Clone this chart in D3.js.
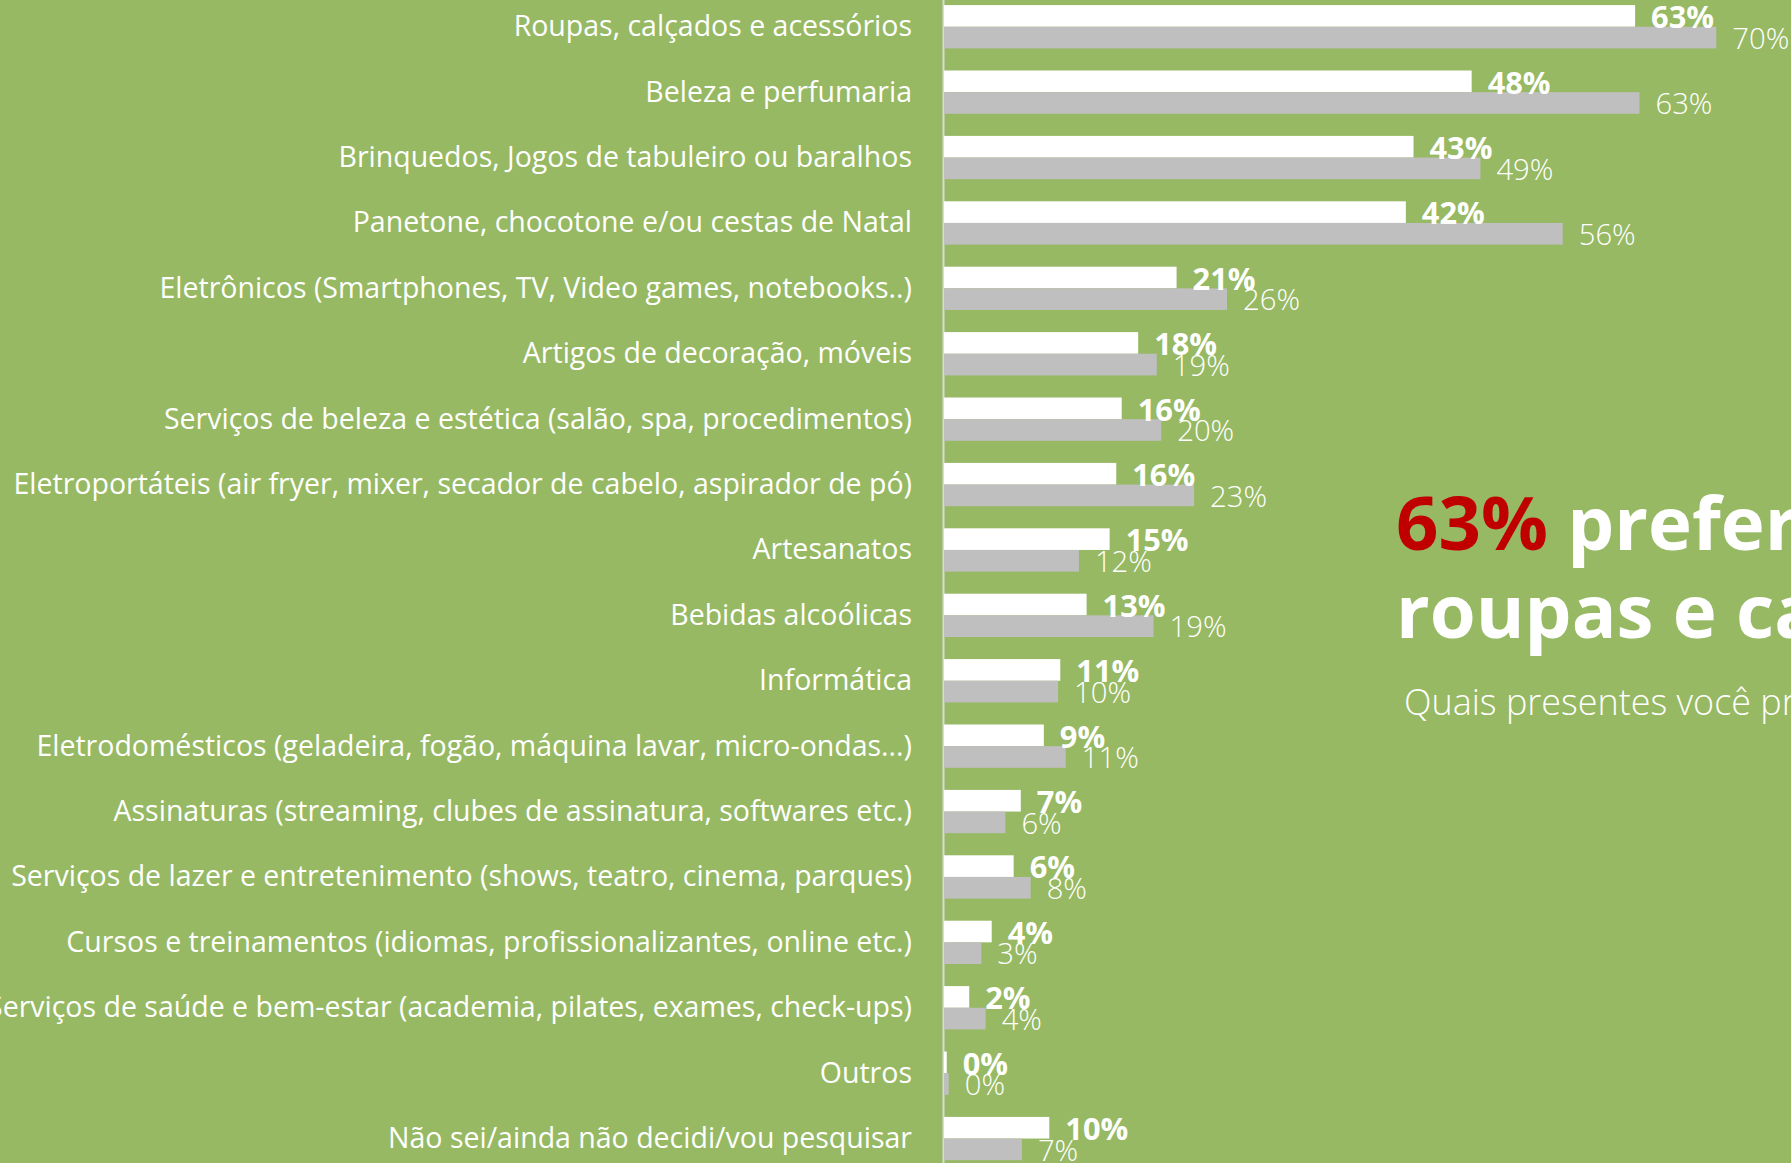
<!DOCTYPE html>
<html>
<head>
<meta charset="utf-8">
<script src="https://cdn.jsdelivr.net/npm/d3@7"></script>
<style>
  html, body { margin: 0; padding: 0; overflow: hidden; background: #97b963; }
  svg { display: block; }
</style>
</head>
<body>
<div id="chart"></div>
<script>
// categories, top to bottom
const categories = [
  'Roupas, calçados e acessórios',
  'Beleza e perfumaria',
  'Brinquedos, Jogos de tabuleiro ou baralhos',
  'Panetone, chocotone e/ou cestas de Natal',
  'Eletrônicos (Smartphones, TV, Video games, notebooks..)',
  'Artigos de decoração, móveis',
  'Serviços de beleza e estética (salão, spa, procedimentos)',
  'Eletroportáteis (air fryer, mixer, secador de cabelo, aspirador de pó)',
  'Artesanatos',
  'Bebidas alcoólicas',
  'Informática',
  'Eletrodomésticos (geladeira, fogão, máquina lavar, micro-ondas...)',
  'Assinaturas (streaming, clubes de assinatura, softwares etc.)',
  'Serviços de lazer e entretenimento (shows, teatro, cinema, parques)',
  'Cursos e treinamentos (idiomas, profissionalizantes, online etc.)',
  'Serviços de saúde e bem-estar (academia, pilates, exames, check-ups)',
  'Outros',
  'Não sei/ainda não decidi/vou pesquisar'
];

// white bars (current survey) and grey bars (previous survey), in %
const valuesAtual =    [63.0, 48.1, 42.8, 42.1, 21.2, 17.7, 16.2, 15.7, 15.1, 13.0, 10.6, 9.1, 7.0, 6.35, 4.35, 2.3, 0.25, 9.6];
const valuesAnterior = [70.4, 63.4, 48.9, 56.4, 25.8, 19.4, 19.8, 22.8, 12.3, 19.1, 10.4, 11.1, 5.6, 7.9, 3.4, 3.8, 0.43, 7.1];

const seriesKeys = ['atual', 'anterior'];

const headlineStrong = '63%';
const headlineRest = ' preferem';
const headlineLine2 = 'roupas e calçados';
const subtitle = 'Quais presentes você pretende comprar neste Natal?';

const WIDTH = 1791, HEIGHT = 1163;
const BG = '#97b963';
const FONT = "'Open Sans', 'Noto Sans', sans-serif";
const COLORS = {atual: '#ffffff', anterior: '#bfbfbf'};

const svg = d3.select('#chart').append('svg')
  .attr('width', WIDTH)
  .attr('height', HEIGHT);

svg.append('rect').attr('width', WIDTH).attr('height', HEIGHT).attr('fill', BG);

// pick a font size so a sample string gets the width it has in the picture
function fitSize(str, weight, base, target) {
  let t = svg.append('text')
    .style('font-family', FONT)
    .style('font-weight', weight)
    .style('font-size', base + 'px')
    .text(str);
  let w = t.node().getComputedTextLength();
  t.remove();
  return base * target / w;
}

const catSize = fitSize(categories[7], 400, 26, 899);
const boldSize = fitSize('48%', 700, 28, 63);
const lightSize = fitSize('63%', 300, 28, 57);
const headSize = fitSize(headlineStrong, 700, 80, 152);
const subSize = fitSize('Quais presentes você', 300, 32, 347);

let x = d3.scaleLinear().domain([0, 100]).range([943, 2040]);
let y = d3.scaleBand().domain(categories).range([-17, 1182.3]).padding(0.338);
let ySub = d3.scaleBand().domain(seriesKeys).range([0, y.bandwidth()]);

let rows = categories.map(function (c, i) {
  return {cat: c, vals: [{key: 'atual', v: valuesAtual[i]}, {key: 'anterior', v: valuesAnterior[i]}]};
});

// category axis
let yAxis = d3.axisLeft(y).tickSize(0).tickSizeOuter(0).tickPadding(31);
let axisG = svg.append('g')
  .attr('class', 'axis')
  .attr('transform', 'translate(' + x(0) + ',0)')
  .call(yAxis);
axisG.select('.domain').attr('stroke', '#d9d9d9').attr('stroke-width', 2);
axisG.selectAll('text')
  .attr('fill', '#ffffff')
  .attr('dy', '0.33em')
  .style('font-family', FONT)
  .style('font-weight', 400)
  .style('font-size', catSize + 'px');

// bars
let groups = svg.selectAll('.row')
  .data(rows)
  .enter().append('g')
  .attr('class', 'row')
  .attr('transform', function (d) {return 'translate(0,' + y(d.cat) + ')';});

groups.selectAll('rect')
  .data(function (d) {return d.vals;})
  .enter().append('rect')
  .attr('x', x(0) + 1)
  .attr('y', function (d) {return ySub(d.key);})
  .attr('width', function (d) {return x(d.v) - x(0);})
  .attr('height', ySub.bandwidth())
  .attr('fill', function (d) {return COLORS[d.key];});

// value labels
groups.selectAll('.value')
  .data(function (d) {return d.vals;})
  .enter().append('text')
  .attr('class', 'value')
  .attr('x', function (d) {return x(d.v) + 17;})
  .attr('y', function (d) {return ySub(d.key) + ySub.bandwidth() + (d.key === 'atual' ? 1.5 : 0.5);})
  .attr('fill', '#ffffff')
  .style('font-family', FONT)
  .style('font-weight', function (d) {return d.key === 'atual' ? 700 : 300;})
  .style('font-size', function (d) {return (d.key === 'atual' ? boldSize : lightSize) + 'px';})
  .text(function (d) {return Math.round(d.v) + '%';});

// headline
let head = svg.append('text')
  .attr('x', 1396)
  .attr('y', 550)
  .style('font-family', FONT)
  .style('font-weight', 700)
  .style('font-size', headSize + 'px');
head.append('tspan').attr('fill', '#c00000').text(headlineStrong);
head.append('tspan').attr('fill', '#ffffff').text(headlineRest);

svg.append('text')
  .attr('x', 1396)
  .attr('y', 638)
  .attr('fill', '#ffffff')
  .style('font-family', FONT)
  .style('font-weight', 700)
  .style('font-size', headSize + 'px')
  .text(headlineLine2);

svg.append('text')
  .attr('x', 1404)
  .attr('y', 715)
  .attr('fill', '#ffffff')
  .style('font-family', FONT)
  .style('font-weight', 300)
  .style('font-size', subSize + 'px')
  .text(subtitle);
</script>
</body>
</html>
